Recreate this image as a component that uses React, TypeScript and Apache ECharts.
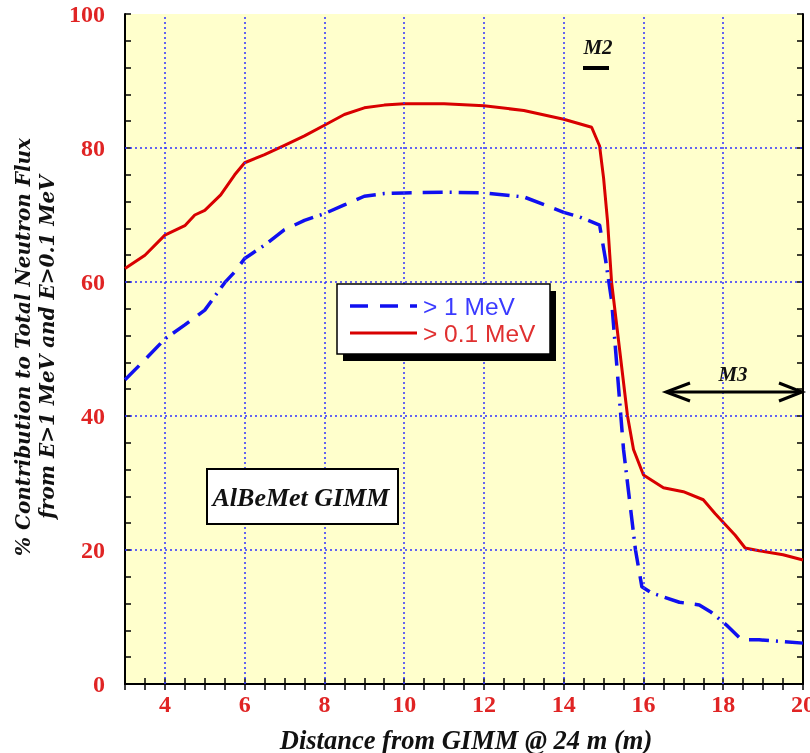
import React, { useEffect, useRef } from "react";
import * as echarts from "echarts";

const redX = [3, 3.5, 4, 4.5, 4.75, 5, 5.4, 5.75, 6, 6.5, 7, 7.5, 8, 8.5, 9, 9.5, 10, 11, 12, 13, 14, 14.7, 14.9, 15.0, 15.1, 15.2, 15.4, 15.6, 15.75, 16, 16.5, 17, 17.5, 17.8, 18.3, 18.55, 18.9, 19.5, 20];
const redY = [62, 64, 67, 68.4, 70, 70.7, 73, 76, 77.8, 79, 80.4, 81.8, 83.4, 85, 86, 86.4, 86.6, 86.6, 86.3, 85.6, 84.3, 83.1, 80.3, 75.5, 69, 60, 50, 40, 35, 31.2, 29.3, 28.7, 27.5, 25.4, 22.2, 20.3, 19.9, 19.3, 18.5];

const blueX = [3, 3.5, 4, 4.5, 5, 5.5, 5.75, 6, 6.5, 7, 7.5, 8, 8.5, 9, 9.5, 10, 11, 12, 13, 13.65, 14, 14.4, 14.9, 15.05, 15.2, 15.3, 15.4, 15.5, 15.65, 15.8, 15.96, 16.2, 16.9, 17.4, 17.7, 18.08, 18.46, 18.9, 20];
const blueY = [45.4, 48.4, 51.5, 53.6, 55.8, 59.9, 61.5, 63.5, 65.5, 67.8, 69.2, 70.2, 71.5, 72.8, 73.2, 73.3, 73.4, 73.3, 72.7, 71.2, 70.4, 69.7, 68.5, 63.3, 57.3, 49.9, 42.4, 35, 27.5, 20, 14.5, 13.6, 12.2, 11.8, 10.7, 8.8, 6.6, 6.6, 6.1];

const gridXs = [4, 6, 8, 10, 12, 14, 16, 18];
const gridYs = [20, 40, 60, 80];

const legendNames = ["> 1 MeV", "> 0.1 MeV"];
const xName = "Distance from GIMM @ 24 m (m)";
const yName1 = "% Contribution to Total Neutron Flux";
const yName2 = "from E>1 MeV and E>0.1 MeV";

const RED = "#e02424";
const BLUE = "#1010f0";
const SERIF = "'Liberation Serif', 'Times New Roman', serif";
const DSERIF = "'DejaVu Serif', serif";
const SANS = "'Liberation Sans', Arial, sans-serif";
const BLUE_DASH = [20, 11, 20, 7, 2, 7];

export default function App() {
  const ref = useRef<HTMLDivElement>(null);
  useEffect(() => {
    if (!ref.current) return;
    const chart = echarts.init(ref.current, null, { renderer: "svg" });
    const tickLabel = {
      color: RED,
      fontFamily: SERIF,
      fontWeight: "bold" as const,
      fontSize: 24,
    };
    const axisLine = { show: true, lineStyle: { color: "#000", width: 2 } };
    const axisTick = { show: true, inside: true, length: 6, lineStyle: { color: "#000", width: 1.5 } };
    const gridLineStyle = { color: "#3030ff", width: 1.5, type: [2, 3] as number[] };

    chart.setOption({
      animation: false,
      grid: {
        left: 125, top: 14, width: 678, height: 670, show: true, backgroundColor: "#ffffcc", borderWidth: 0,
        outerBoundsMode: "none", containLabel: false,
      },
      xAxis: [
        {
          type: "value", min: 3, max: 20, interval: 0.5, position: "bottom",
          axisLine, axisTick, splitLine: { show: false },
          axisLabel: { ...tickLabel, margin: 8, formatter: (v: number) => (v % 2 === 0 ? String(v) : "") },
        },
        {
          type: "value", min: 3, max: 20, interval: 0.5, position: "top",
          axisLine, axisTick, splitLine: { show: false }, axisLabel: { show: false },
        },
      ],
      yAxis: [
        {
          type: "value", min: 0, max: 100, interval: 4, position: "left",
          axisLine, axisTick, splitLine: { show: false },
          axisLabel: { ...tickLabel, margin: 20, formatter: (v: number) => (v % 20 === 0 ? String(v) : "") },
        },
        {
          type: "value", min: 0, max: 100, interval: 4, position: "right",
          axisLine, axisTick, splitLine: { show: false }, axisLabel: { show: false },
        },
      ],
      series: [
        {
          type: "line", data: [], z: 1, silent: true,
          markLine: {
            silent: true, symbol: "none", label: { show: false },
            lineStyle: gridLineStyle,
            data: [
              ...gridXs.map((v) => ({ xAxis: v })),
              ...gridYs.map((v) => ({ yAxis: v })),
            ],
          },
        },
        {
          name: legendNames[0], type: "line", z: 3, showSymbol: false, symbol: "none",
          lineStyle: { color: BLUE, width: 3.5, type: BLUE_DASH, cap: "butt" },
          data: blueX.map((x, i) => [x, blueY[i]]),
        },
        {
          name: legendNames[1], type: "line", z: 4, showSymbol: false, symbol: "none",
          lineStyle: { color: "#d80000", width: 3 },
          data: redX.map((x, i) => [x, redY[i]]),
        },
      ],
      graphic: [
        // legend box
        { type: "rect", shape: { x: 343, y: 291, width: 213, height: 70 }, style: { fill: "#000" }, z: 10 },
        { type: "rect", shape: { x: 337, y: 284, width: 213, height: 70 }, style: { fill: "#fff", stroke: "#000", lineWidth: 1.5 }, z: 11 },
        { type: "line", shape: { x1: 350, y1: 306, x2: 417, y2: 306 }, style: { stroke: BLUE, lineWidth: 3.5, lineDash: [18, 12] }, z: 12 },
        { type: "text", x: 423, y: 306, style: { text: legendNames[0], fill: "#3a3aff", font: `24.5px ${SANS}`, textVerticalAlign: "middle" }, z: 12 },
        { type: "line", shape: { x1: 350, y1: 333, x2: 417, y2: 333 }, style: { stroke: "#d80000", lineWidth: 3 }, z: 12 },
        { type: "text", x: 423, y: 333, style: { text: legendNames[1], fill: "#e03030", font: `24.5px ${SANS}`, textVerticalAlign: "middle" }, z: 12 },
        // AlBeMet GIMM box
        { type: "rect", shape: { x: 207, y: 469, width: 191, height: 55 }, style: { fill: "#fff", stroke: "#000", lineWidth: 2 }, z: 11 },
        { type: "text", x: 301, y: 497, style: { text: "AlBeMet GIMM", fill: "#111", font: `italic bold 26px ${SERIF}`, textAlign: "center", textVerticalAlign: "middle" }, z: 12 },
        // M2
        { type: "text", x: 598, y: 47, style: { text: "M2", fill: "#111", font: `italic bold 21px ${SERIF}`, textAlign: "center", textVerticalAlign: "middle" }, z: 12 },
        { type: "rect", shape: { x: 583, y: 66, width: 26, height: 4 }, style: { fill: "#000" }, z: 12 },
        // M3
        { type: "text", x: 733, y: 374, style: { text: "M3", fill: "#111", font: `italic bold 21px ${SERIF}`, textAlign: "center", textVerticalAlign: "middle" }, z: 12 },
        { type: "line", shape: { x1: 667, y1: 392, x2: 801, y2: 392 }, style: { stroke: "#000", lineWidth: 3 }, z: 12 },
        { type: "polyline", shape: { points: [[690, 383], [666, 392], [690, 401]] }, style: { stroke: "#000", lineWidth: 3, fill: "none" }, z: 12 },
        { type: "polyline", shape: { points: [[779, 383], [802, 392], [779, 401]] }, style: { stroke: "#000", lineWidth: 3, fill: "none" }, z: 12 },
        // axis names
        { type: "text", x: 466, y: 740, style: { text: xName, fill: "#111", font: `italic bold 26.5px ${SERIF}`, textAlign: "center", textVerticalAlign: "middle" }, z: 12 },
        {
          type: "text", x: 35, y: 347, rotation: Math.PI / 2,
          style: { text: yName1 + "\n" + yName2, fill: "#111", font: `italic bold 20px ${DSERIF}`, textAlign: "center", textVerticalAlign: "middle", lineHeight: 24 },
          z: 12,
        },
      ],
    });
    return () => chart.dispose();
  }, []);
  return <div ref={ref} style={{ position: "fixed", left: 0, top: 0, width: 810, height: 753 }} />;
}
